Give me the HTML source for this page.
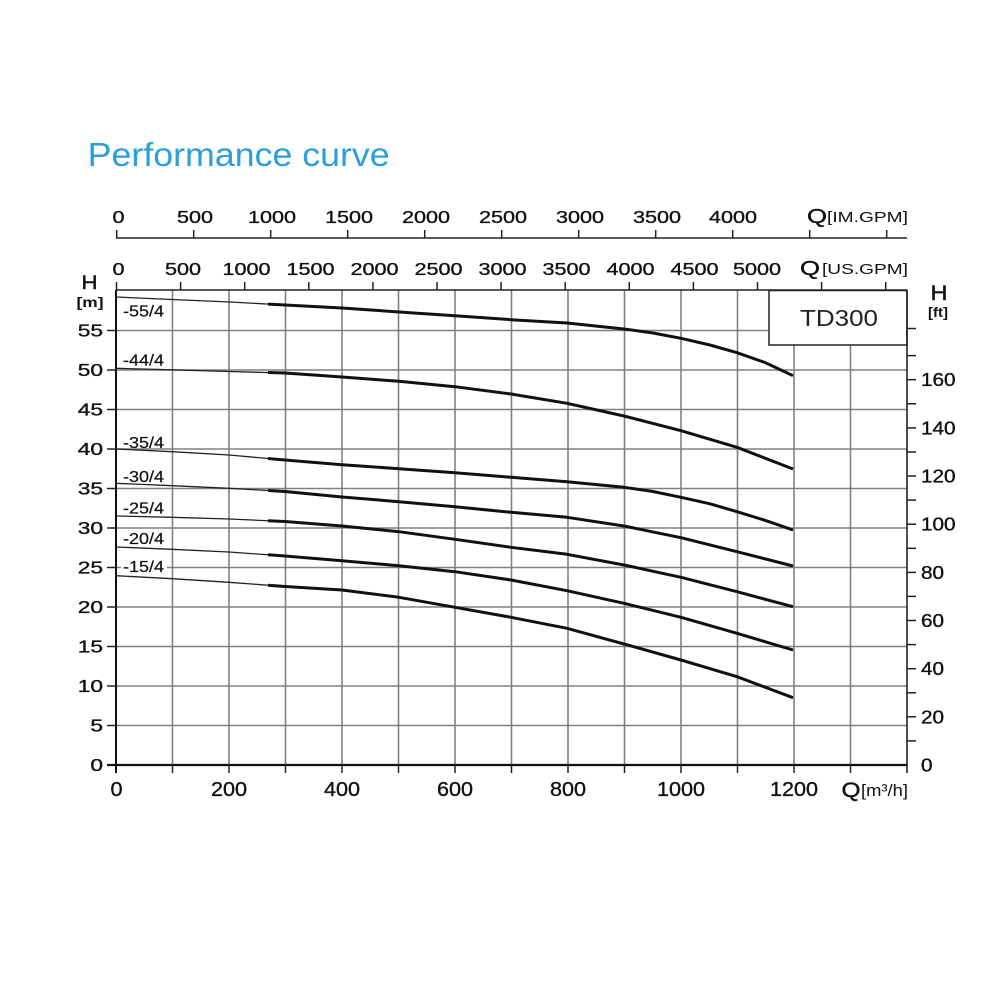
<!DOCTYPE html>
<html><head><meta charset="utf-8"><style>
html,body{margin:0;padding:0;background:#fff;}
svg{display:block;}
text{font-family:"Liberation Sans",Arial,sans-serif;fill:#111;}
.l,.r,.b,.t{stroke:#111;stroke-width:0.35px;}
.l{font-size:17.5px;text-anchor:end;transform-box:fill-box;transform-origin:100% 50%;transform:scaleX(1.3);}
.r{font-size:18.5px;text-anchor:start;transform-box:fill-box;transform-origin:0% 50%;transform:scaleX(1.12);}
.b{font-size:20px;text-anchor:middle;transform-box:fill-box;transform-origin:50% 50%;transform:scaleX(1.08);}
.t{font-size:18px;text-anchor:middle;transform-box:fill-box;transform-origin:50% 50%;transform:scaleX(1.2);}
.c{font-size:15.5px;stroke:#111;stroke-width:0.2px;}
.q{stroke:#111;stroke-width:0.4px;}
.g{stroke:#808080;stroke-width:1.6;fill:none;}
.k{stroke:#222;stroke-width:1.5;fill:none;}
.th{stroke:#111;stroke-width:3;fill:none;stroke-linejoin:round;}
.tn{stroke:#222;stroke-width:1.3;fill:none;stroke-linejoin:round;}
</style></head><body>
<svg width="1000" height="1000" viewBox="0 0 1000 1000" xmlns="http://www.w3.org/2000/svg">
<rect width="1000" height="1000" fill="#fff"/>
<text x="87.7" y="166" font-size="33" textLength="302" lengthAdjust="spacingAndGlyphs" style="fill:#2a9fdc">Performance curve</text>

<!-- IM GPM axis -->
<line class="k" x1="116" y1="238" x2="907" y2="238"/>
<g class="k">
<line x1="116.7" y1="230" x2="116.7" y2="238"/><line x1="193.7" y1="230" x2="193.7" y2="238"/><line x1="270.7" y1="230" x2="270.7" y2="238"/><line x1="347.7" y1="230" x2="347.7" y2="238"/><line x1="424.7" y1="230" x2="424.7" y2="238"/><line x1="501.7" y1="230" x2="501.7" y2="238"/><line x1="578.7" y1="230" x2="578.7" y2="238"/><line x1="655.7" y1="230" x2="655.7" y2="238"/><line x1="732.7" y1="230" x2="732.7" y2="238"/><line x1="809.7" y1="230" x2="809.7" y2="238"/><line x1="886.7" y1="230" x2="886.7" y2="238"/>
</g>
<text class="t" x="118.5" y="223">0</text><text class="t" x="195" y="223">500</text><text class="t" x="272" y="223">1000</text><text class="t" x="349" y="223">1500</text><text class="t" x="426" y="223">2000</text><text class="t" x="503" y="223">2500</text><text class="t" x="580" y="223">3000</text><text class="t" x="657" y="223">3500</text><text class="t" x="733" y="223">4000</text>
<text class="q" x="807" y="223" font-size="20" textLength="20" lengthAdjust="spacingAndGlyphs">Q</text>
<text x="827" y="222" font-size="15" textLength="81" lengthAdjust="spacingAndGlyphs">[IM.GPM]</text>

<!-- US GPM ticks -->
<g class="k">
<line x1="116.5" y1="282" x2="116.5" y2="290"/><line x1="180.6" y1="282" x2="180.6" y2="290"/><line x1="244.7" y1="282" x2="244.7" y2="290"/><line x1="308.8" y1="282" x2="308.8" y2="290"/><line x1="372.9" y1="282" x2="372.9" y2="290"/><line x1="437" y1="282" x2="437" y2="290"/><line x1="501.1" y1="282" x2="501.1" y2="290"/><line x1="565.2" y1="282" x2="565.2" y2="290"/><line x1="629.3" y1="282" x2="629.3" y2="290"/><line x1="693.4" y1="282" x2="693.4" y2="290"/><line x1="757.5" y1="282" x2="757.5" y2="290"/><line x1="821.6" y1="282" x2="821.6" y2="290"/><line x1="885.7" y1="282" x2="885.7" y2="290"/>
</g>
<text class="t" x="118.5" y="275">0</text><text class="t" x="183" y="275">500</text><text class="t" x="246.5" y="275">1000</text><text class="t" x="310.5" y="275">1500</text><text class="t" x="374.5" y="275">2000</text><text class="t" x="438.5" y="275">2500</text><text class="t" x="502.5" y="275">3000</text><text class="t" x="566.5" y="275">3500</text><text class="t" x="630.5" y="275">4000</text><text class="t" x="694.5" y="275">4500</text><text class="t" x="757" y="275">5000</text>
<text class="q" x="800" y="275" font-size="20" textLength="20" lengthAdjust="spacingAndGlyphs">Q</text>
<text x="822" y="274" font-size="15" textLength="86" lengthAdjust="spacingAndGlyphs">[US.GPM]</text>

<!-- grid -->
<g class="g">
<line x1="172.5" y1="290" x2="172.5" y2="765"/><line x1="229" y1="290" x2="229" y2="765"/><line x1="285.5" y1="290" x2="285.5" y2="765"/><line x1="342" y1="290" x2="342" y2="765"/><line x1="398.5" y1="290" x2="398.5" y2="765"/><line x1="455" y1="290" x2="455" y2="765"/><line x1="511.5" y1="290" x2="511.5" y2="765"/><line x1="568" y1="290" x2="568" y2="765"/><line x1="624.5" y1="290" x2="624.5" y2="765"/><line x1="681" y1="290" x2="681" y2="765"/><line x1="737.5" y1="290" x2="737.5" y2="765"/><line x1="794" y1="290" x2="794" y2="765"/><line x1="850.5" y1="290" x2="850.5" y2="765"/>
<line x1="116" y1="725.5" x2="907" y2="725.5"/><line x1="116" y1="686" x2="907" y2="686"/><line x1="116" y1="646.5" x2="907" y2="646.5"/><line x1="116" y1="607" x2="907" y2="607"/><line x1="116" y1="567.5" x2="907" y2="567.5"/><line x1="116" y1="528" x2="907" y2="528"/><line x1="116" y1="488.5" x2="907" y2="488.5"/><line x1="116" y1="449" x2="907" y2="449"/><line x1="116" y1="409.5" x2="907" y2="409.5"/><line x1="116" y1="370" x2="907" y2="370"/><line x1="116" y1="330.5" x2="907" y2="330.5"/>
</g>

<!-- TD300 box -->
<rect x="769" y="290.5" width="138" height="54.5" fill="#fff" stroke="#222" stroke-width="1.5"/>
<text x="800" y="326" font-size="23" textLength="78" lengthAdjust="spacingAndGlyphs" style="fill:#222">TD300</text>

<!-- borders -->
<line x1="116" y1="290" x2="907" y2="290" stroke="#222" stroke-width="1.6"/>
<line x1="907" y1="290" x2="907" y2="773" stroke="#222" stroke-width="1.6"/>
<line x1="116" y1="290" x2="116" y2="773" stroke="#111" stroke-width="2"/>
<line x1="107" y1="765" x2="907" y2="765" stroke="#111" stroke-width="2.2"/>

<!-- bottom ticks -->
<g class="k">
<line x1="172.5" y1="765" x2="172.5" y2="773"/><line x1="229" y1="765" x2="229" y2="773"/><line x1="285.5" y1="765" x2="285.5" y2="773"/><line x1="342" y1="765" x2="342" y2="773"/><line x1="398.5" y1="765" x2="398.5" y2="773"/><line x1="455" y1="765" x2="455" y2="773"/><line x1="511.5" y1="765" x2="511.5" y2="773"/><line x1="568" y1="765" x2="568" y2="773"/><line x1="624.5" y1="765" x2="624.5" y2="773"/><line x1="681" y1="765" x2="681" y2="773"/><line x1="737.5" y1="765" x2="737.5" y2="773"/><line x1="794" y1="765" x2="794" y2="773"/><line x1="850.5" y1="765" x2="850.5" y2="773"/>
</g>
<!-- left ticks -->
<g class="k">
<line x1="107" y1="725.5" x2="116" y2="725.5"/><line x1="107" y1="686" x2="116" y2="686"/><line x1="107" y1="646.5" x2="116" y2="646.5"/><line x1="107" y1="607" x2="116" y2="607"/><line x1="107" y1="567.5" x2="116" y2="567.5"/><line x1="107" y1="528" x2="116" y2="528"/><line x1="107" y1="488.5" x2="116" y2="488.5"/><line x1="107" y1="449" x2="116" y2="449"/><line x1="107" y1="409.5" x2="116" y2="409.5"/><line x1="107" y1="370" x2="116" y2="370"/><line x1="107" y1="330.5" x2="116" y2="330.5"/>
</g>
<!-- right ticks -->
<g class="k">
<line x1="907" y1="740.9" x2="916" y2="740.9"/><line x1="907" y1="716.8" x2="916" y2="716.8"/><line x1="907" y1="692.8" x2="916" y2="692.8"/><line x1="907" y1="668.7" x2="916" y2="668.7"/><line x1="907" y1="644.6" x2="916" y2="644.6"/><line x1="907" y1="620.5" x2="916" y2="620.5"/><line x1="907" y1="596.4" x2="916" y2="596.4"/><line x1="907" y1="572.4" x2="916" y2="572.4"/><line x1="907" y1="548.3" x2="916" y2="548.3"/><line x1="907" y1="524.2" x2="916" y2="524.2"/><line x1="907" y1="500.1" x2="916" y2="500.1"/><line x1="907" y1="476" x2="916" y2="476"/><line x1="907" y1="452" x2="916" y2="452"/><line x1="907" y1="427.9" x2="916" y2="427.9"/><line x1="907" y1="403.8" x2="916" y2="403.8"/><line x1="907" y1="379.7" x2="916" y2="379.7"/><line x1="907" y1="355.6" x2="916" y2="355.6"/><line x1="907" y1="328.5" x2="916" y2="328.5"/>
</g>

<!-- left labels -->
<text class="l" x="103" y="771">0</text><text class="l" x="103" y="731.5">5</text><text class="l" x="103" y="692">10</text><text class="l" x="103" y="652.5">15</text><text class="l" x="103" y="613">20</text><text class="l" x="103" y="573.5">25</text><text class="l" x="103" y="534">30</text><text class="l" x="103" y="494.5">35</text><text class="l" x="103" y="455">40</text><text class="l" x="103" y="415.5">45</text><text class="l" x="103" y="376">50</text><text class="l" x="103" y="336.5">55</text>
<text class="q" x="81.5" y="289" font-size="19" textLength="16" lengthAdjust="spacingAndGlyphs">H</text>
<text x="76.5" y="307" font-size="14" font-weight="bold" textLength="27" lengthAdjust="spacingAndGlyphs">[m]</text>

<!-- right labels -->
<text class="r" x="921" y="771.5">0</text><text class="r" x="921" y="723.3">20</text><text class="r" x="921" y="675.2">40</text><text class="r" x="921" y="627">60</text><text class="r" x="921" y="578.9">80</text><text class="r" x="921" y="530.7">100</text><text class="r" x="921" y="482.5">120</text><text class="r" x="921" y="434.4">140</text><text class="r" x="921" y="386.2">160</text>
<text class="q" x="930.5" y="300" font-size="21" textLength="17" lengthAdjust="spacingAndGlyphs">H</text>
<text x="928" y="317" font-size="14" font-weight="bold" textLength="20" lengthAdjust="spacingAndGlyphs">[ft]</text>

<!-- bottom labels -->
<text class="b" x="116.5" y="796">0</text><text class="b" x="229" y="796">200</text><text class="b" x="342" y="796">400</text><text class="b" x="455" y="796">600</text><text class="b" x="568" y="796">800</text><text class="b" x="681" y="796">1000</text><text class="b" x="794" y="796">1200</text>
<text class="q" x="841.5" y="797" font-size="21" textLength="19" lengthAdjust="spacingAndGlyphs">Q</text>
<text x="861" y="796" font-size="17" textLength="47" lengthAdjust="spacingAndGlyphs">[m³/h]</text>

<!-- curves: thin start -->
<polyline class="tn" points="116,297 172,299.5 230,302 285,305"/>
<polyline class="tn" points="116,368.3 172,369.8 229,371.5 285,373"/>
<polyline class="tn" points="116,449 172,451.7 229,455 285,460"/>
<polyline class="tn" points="116,483.3 172,485.7 229,488.3 285,491.5"/>
<polyline class="tn" points="116,516 172,517.3 229,519 285,521.5"/>
<polyline class="tn" points="116,547 172,549.3 229,552 285,556"/>
<polyline class="tn" points="116,575.7 172,578.7 229,582.3 285,586.5"/>
<!-- curves: thick -->
<polyline class="th" points="268,304.1 285,305 342,308 399,312 455,315.7 511,319.7 567,323 624,329 653,333 681,338.3 710,345 737,352.7 765,362.5 793,375.7"/>
<polyline class="th" points="268,372.5 285,373 342,377 399,381.3 455,386.7 511,394 567,403.3 624,416 681,430.7 737,447.3 793,469"/>
<polyline class="th" points="268,458.5 285,460 342,464.7 399,468.7 455,472.7 511,477.3 567,481.7 624,487.3 653,491.5 681,497.3 710,503.8 737,511.7 765,520.3 793,530"/>
<polyline class="th" points="268,490.5 285,491.5 342,497 399,501.7 455,506.7 511,512.3 567,517.3 624,526 681,537.7 737,551.7 793,566"/>
<polyline class="th" points="268,520.7 285,521.5 342,526 399,531.7 455,539.3 511,547.3 567,554.3 624,565 681,577.3 737,591.7 793,606.7"/>
<polyline class="th" points="268,554.8 285,556 342,560.7 399,565.7 455,571.7 511,580 567,590.7 624,603.3 681,617.3 737,633.3 793,650"/>
<polyline class="th" points="268,585.2 285,586.5 342,590 399,597.3 455,607.3 511,617.3 567,628.3 624,644 681,660 737,676.7 793,697.7"/>

<!-- curve labels -->
<rect x="121" y="561" width="46" height="12" fill="#fff"/>
<text class="c" x="123" y="316.5" textLength="41" lengthAdjust="spacingAndGlyphs">-55/4</text>
<text class="c" x="123" y="365.5" textLength="41" lengthAdjust="spacingAndGlyphs">-44/4</text>
<text class="c" x="123" y="448" textLength="41" lengthAdjust="spacingAndGlyphs">-35/4</text>
<text class="c" x="123" y="482" textLength="41" lengthAdjust="spacingAndGlyphs">-30/4</text>
<text class="c" x="123" y="513.5" textLength="41" lengthAdjust="spacingAndGlyphs">-25/4</text>
<text class="c" x="123" y="544" textLength="41" lengthAdjust="spacingAndGlyphs">-20/4</text>
<text class="c" x="123" y="572" textLength="41" lengthAdjust="spacingAndGlyphs">-15/4</text>
</svg>
</body></html>
